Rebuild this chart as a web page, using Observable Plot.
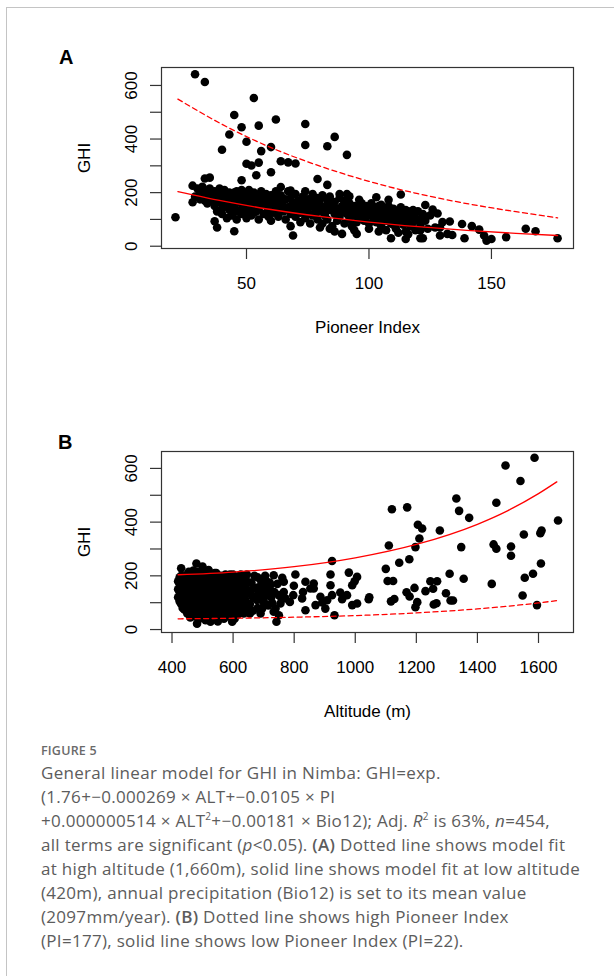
<!DOCTYPE html>
<html>
<head>
<meta charset="utf-8">
<script src="https://cdn.jsdelivr.net/npm/d3@7"></script>
<script src="https://cdn.jsdelivr.net/npm/@observablehq/plot@0.6"></script>
<style>
  body { margin: 0; background: #fff; }
  #page { position: relative; width: 614px; height: 976px; overflow: hidden; font-family: "Liberation Sans", Arial, sans-serif; }
  .border { position: absolute; left: 6px; top: 7px; width: 700px; height: 1000px; border-left: 1.5px solid #c4c4c4; border-top: 1.5px solid #c4c4c4; }
  .panel { position: absolute; left: 0; }
  .letter { position: absolute; font-family: "Liberation Sans", Arial, sans-serif; font-weight: bold; font-size: 20px; line-height: 20px; color: #000; }
  #fig { position: absolute; left: 41px; top: 741px; font-family: "Open Sans", sans-serif; font-size: 12.5px; line-height: 20px; font-weight: 600; color: #6a6a6a; letter-spacing: 0.2px; }
  #cap { position: absolute; left: 41px; top: 761px; font-family: "Open Sans", sans-serif; font-size: 17px; line-height: 24px; color: #5c5c5c; white-space: nowrap; letter-spacing: 0.3px; }
  #cap b { font-weight: 600; }
</style>
</head>
<body>
<div id="page">
  <div class="border"></div>
  <div class="letter" style="left:59px;top:47px;">A</div>
  <div class="panel" id="panelA" style="top:30px;"></div>
  <div class="letter" style="left:58px;top:432px;">B</div>
  <div class="panel" id="panelB" style="top:420px;"></div>
  <div id="fig">FIGURE 5</div>
  <div id="cap">
    General linear model for GHI in Nimba: GHI=exp.<br>
    (1.76+−0.000269 × ALT+−0.0105 × PI<br>
    +0.000000514 × ALT<sup style="font-size:10px;line-height:0">2</sup>+−0.00181 × Bio12); Adj. <i>R</i><sup style="font-size:10px;line-height:0">2</sup> is 63%, <i>n</i>=454,<br>
    all terms are significant (<i>p</i>&lt;0.05). <b>(A)</b> Dotted line shows model fit<br>
    at high altitude (1,660m), solid line shows model fit at low altitude<br>
    (420m), annual precipitation (Bio12) is set to its mean value<br>
    (2097mm/year). <b>(B)</b> Dotted line shows high Pioneer Index<br>
    (PI=177), solid line shows low Pioneer Index (PI=22).
  </div>
</div>
<script>
// ---------- Panel A: GHI vs Pioneer Index (pairs [PI, GHI]) ----------
const pointsA_sparse = [
  [29,642],[33,613],[53,553],[45,490],[62,473],[55,450],[48,444],[43,417],[50,390],[60,370],
  [40,360],[56,355],[64,317],[67,313],[70,309],[50,308],[52,301],[55,312],[54,265],[60,276],
  [48,246],[33,253],[35,256],[28,226],[64,221],[21,108],[28,164],[37,93],[38,70],[45,56],
  [68,75],[74,456],[86,408],[74,378],[83,373],[91,341],[79,251],[83,229],[74,205],[68,208],
  [113,193],[103,183],[108,173],[96,173],[88,195],[91,195],[92,186],[123,154],[69,40],[89,46],
  [95,46],[84,65],[104,55],[109,30],[115,27],[121,30],[126,137],[122,120],[125,115],[128,122],
  [130,90],[133,92],[138,83],[142,75],[145,62],[147,40],[148,21],[150,27],[156,34],[164,65],
  [168,56],[177,30],[139,30],[129,40],[132,46],[134,42],[124,65],[122,30],[127,70],[129,70]
];
const pointsA_cluster = [
  [30,215],[31,200],[32,190],[33,208],[34,178],[35,196],[31,175],[29,185],[33,170],[35,215],
  [36,188],[34,160],[32,222],[36,170],[37,205],[37,150],[38,185],[38,130],[39,215],[39,165],
  [40,195],[40,140],[40,120],[41,175],[41,210],[42,155],[42,190],[42,105],[43,200],[43,135],
  [44,170],[44,115],[45,185],[45,150],[46,205],[46,130],[46,100],[47,165],[47,190],[48,140],
  [48,210],[48,120],[49,175],[49,155],[50,195],[50,130],[50,105],[51,165],[51,210],[52,145],
  [52,185],[52,115],[53,170],[53,200],[54,130],[54,155],[55,185],[55,100],[55,140],[56,165],
  [56,205],[57,120],[57,180],[58,150],[58,195],[59,135],[59,110],[60,170],[60,190],[60,95],
  [61,150],[61,125],[62,180],[62,205],[63,140],[63,110],[64,165],[64,190],[65,130],[65,150],
  [66,100],[66,175],[67,145],[67,205],[68,120],[68,180],[69,160],[69,135],[70,195],[70,110],
  [71,150],[71,170],[72,125],[72,90],[73,185],[73,140],[74,160],[74,105],[75,130],[75,175],
  [76,150],[76,85],[77,195],[77,115],[78,140],[78,165],[79,100],[79,180],[80,130],[80,155],
  [81,190],[81,85],[82,145],[82,115],[83,170],[83,100],[84,135],[84,185],[85,155],[85,75],
  [86,120],[86,165],[87,140],[87,95],[88,180],[88,110],[89,150],[89,130],[90,170],[90,85],
  [91,120],[91,145],[92,100],[92,160],[93,135],[93,75],[94,150],[94,115],[95,90],[95,130],
  [96,145],[96,105],[97,120],[97,160],[98,95],[98,135],[99,150],[99,110],[100,125],[100,85],
  [101,140],[101,160],[102,105],[102,120],[103,145],[103,90],[104,130],[104,110],[105,155],[105,75],
  [106,120],[106,140],[107,95],[107,130],[108,150],[108,110],[109,85],[109,125],[110,140],[110,100],
  [111,115],[111,65],[112,130],[112,90],[113,145],[113,105],[114,80],[114,120],[115,135],[115,55],
  [116,100],[117,115],[117,75],[118,90],[119,125],[119,60],[120,100],[121,80],[122,110],[118,135],
  [116,45],[112,50],[107,60],[100,65],[94,60],[86,55],[80,70],
  [31,210],[33,190],[35,180],[37,172],[39,190],[41,160],[43,180],[44,145],[45,200],[47,130],
  [49,195],[51,140],[53,125],[54,180],[57,160],[59,170],[61,190],[62,140],[63,160],[66,140],
  [68,150],[70,130],[72,160],[74,130],[76,175],[78,120],[80,175],[82,125],[84,160],[86,140],
  [88,130],[90,150],[92,130],[94,135],[96,125],[98,115],[100,145],[102,135],[104,150],[106,100],
  [108,130],[110,120],[112,110],[114,100],[116,130],[118,110],[120,130],[123,95],[116,85],[121,60],
  [110,80],[105,95]
];
// model curves
const curvePI = [22, 40, 60, 80, 100, 120, 140, 160, 177];
const curveA_lowAlt = [204, 169, 137, 111, 90, 73, 59, 48, 40];     // solid
const curveA_highAlt = [549, 455, 368, 299, 242, 196, 159, 129, 106]; // dashed

// ---------- Panel B: GHI vs Altitude (pairs [ALT, GHI]) ----------
const pointsB_sparse = [
  [1587,640],[1492,611],[1541,553],[1331,488],[1120,448],[1170,455],[1462,472],[1340,442],[1373,416],[1664,406],
  [1205,390],[1219,376],[1277,369],[1210,339],[1197,307],[1110,313],[1347,307],[1552,354],[1606,359],[1610,369],
  [1453,317],[1462,301],[1510,309],[1510,275],[1100,226],[1144,249],[1177,262],[1608,246],[1106,181],[1124,181],
  [1309,208],[1355,189],[1447,170],[1555,193],[1582,208],[1246,180],[1268,180],[1255,152],[1194,155],[1230,143],
  [1168,139],[1178,123],[1297,135],[1117,105],[1128,114],[1203,102],[1197,83],[1257,93],[1266,98],[1312,108],
  [1320,108],[1548,127],[1595,91],
  [924,255],[919,205],[979,212],[1006,196],[998,180],[990,165],[1044,113],[1046,120],[919,165],[864,171],
  [864,153],[804,205],[932,53],[924,128],[951,138],[886,122],[892,101],[870,91],[829,140],[826,116],
  [837,72],[799,163],[797,128],[786,103],[742,29],[750,53],[733,202],[761,193],[766,178],[990,91],
  [1006,97],[957,113],[973,128],[908,109],[902,78],[766,140],[771,116],[750,128],[722,165],[712,128],
  [700,103],[695,78],[739,78],[755,97],[733,66],[837,178],[853,153]
];
const pointsB_cluster = [
  [430,228],[480,246],[455,215],[520,222],[545,210],[600,205],[500,235],[470,220],
  [450,60],[482,22],[526,29],[597,29],[460,45],[510,35],[550,30],[570,40],[540,55],[490,40],
  [420,150],[420,120],[420,180],[430,95],[430,135],[430,165],[430,200],
  [440,110],[440,150],[440,185],[440,75],[450,130],[450,170],[450,205],[450,95],
  [460,60],[460,115],[460,150],[460,190],[470,85],[470,140],[470,175],[470,210],
  [480,105],[480,160],[480,195],[480,70],[490,125],[490,55],[490,180],[490,150],
  [500,90],[500,140],[500,205],[500,170],[510,65],[510,115],[510,160],[510,190],
  [520,100],[520,135],[520,180],[520,45],[530,75],[530,150],[530,200],[530,120],
  [540,95],[540,130],[540,170],[540,210],[550,60],[550,115],[550,185],[550,150],
  [560,85],[560,140],[560,165],[560,200],[570,105],[570,125],[570,180],[570,55],
  [580,70],[580,150],[580,195],[580,115],[590,95],[590,135],[590,170],[590,205],
  [600,60],[600,120],[600,155],[600,185],[610,80],[610,140],[610,175],[610,100],
  [620,115],[620,160],[620,195],[620,65],[630,90],[630,140],[630,175],
  [640,110],[640,160],[640,190],[640,130],
  [650,145],[655,95],[660,175],[665,120],[670,200],[675,155],[680,80],[685,135],[690,185],[695,110],
  [700,160],[705,200],[710,140],[715,90],[720,175],[725,120],[655,60],[665,70],[700,103],[712,128],
  [425,105],[425,140],[425,170],[425,195],[435,80],[435,120],[435,150],[435,185],[445,95],[445,130],
  [445,165],[445,200],[455,75],[455,110],[455,145],[455,180],[465,100],[465,130],[465,165],[465,200],
  [475,50],[475,120],[475,155],[475,190],[485,90],[485,135],[485,170],[485,215],[495,70],[495,110],
  [495,160],[495,195],[505,50],[505,125],[505,150],[505,215],[515,85],[515,135],[515,175],[515,205],
  [525,60],[525,110],[525,160],[525,195],[535,40],[535,95],[535,140],[535,180],[545,75],[545,120],
  [545,160],[545,195],[555,45],[555,100],[555,130],[555,170],[565,70],[565,115],[565,150],[565,190],
  [575,90],[575,135],[575,165],[575,205],[585,50],[585,100],[585,130],[585,180],[595,75],[595,110],
  [595,145],[595,190],[605,40],[605,95],[605,130],[605,165],[615,55],[615,125],[615,150],[615,185],
  [625,80],[625,105],[625,205],[635,60],[635,120],[635,155],
  [645,80],[650,175],[660,130],[668,155],[678,110],[688,160],[698,135],[708,180],[718,150],[728,100],
  [735,140],[745,170],[757,120],[680,195],[690,60],[645,205]
];
// model curves
const curveALT = [420, 600, 800, 1000, 1200, 1400, 1500, 1600, 1660];
const curveB_lowPI = [204, 214, 234, 267, 317, 392, 443, 506, 550];  // solid
const curveB_highPI = [40, 42, 46, 52, 62, 77, 87, 99, 108];          // dashed

const yTicks = [0, 100, 200, 300, 400, 500, 600];

function panel({points, xDomain, yDomain, xTicks, xLabel, curveX, solid, dashed, marginTop, marginBottom, height}) {
  const pts = points.map(([x, y]) => ({x, y}));
  const curves = curveX.map((x, i) => ({x, solid: solid[i], dashed: dashed[i]}));
  return Plot.plot({
    width: 614, height, marginLeft: 161, marginRight: 41, marginTop, marginBottom,
    style: {fontFamily: "'Liberation Sans', Arial, sans-serif", fontSize: "17px", color: "#000", background: "transparent", overflow: "visible"},
    x: {domain: xDomain},
    y: {domain: yDomain},
    marks: [
      Plot.dot(pts, {x: "x", y: "y", r: 4.3, fill: "#000", stroke: "none"}),
      Plot.line(curves, {x: "x", y: "solid", stroke: "#ff0000", strokeWidth: 1.3, curve: "monotone-x"}),
      Plot.line(curves, {x: "x", y: "dashed", stroke: "#ff0000", strokeWidth: 1.3, strokeDasharray: "5,3.5", curve: "monotone-x"}),
      Plot.frame({stroke: "#333", strokeWidth: 1.2}),
      Plot.axisY({ticks: yTicks, tickSize: 11, tickPadding: 14, tickRotate: -90, stroke: "#333", strokeWidth: 1.2,
        tickFormat: d => d % 200 === 0 ? String(d) : "", label: null, fontSize: 17}),
      Plot.axisX({ticks: xTicks, tickSize: 11, tickPadding: 17, stroke: "#333", strokeWidth: 1.2,
        tickFormat: d => String(d), label: null, fontSize: 17}),
      Plot.text(["GHI"], {frameAnchor: "left", dx: -77, rotate: -90, textAnchor: "middle", lineAnchor: "middle", fontSize: 17}),
      Plot.text([xLabel], {frameAnchor: "bottom", dy: 79, textAnchor: "middle", lineAnchor: "middle", fontSize: 17})
    ]
  });
}

document.getElementById("panelA").append(panel({
  points: pointsA_sparse.concat(pointsA_cluster),
  xDomain: [15.3, 183.5], yDomain: [-8.5, 667],
  xTicks: [50, 100, 150], xLabel: "Pioneer Index",
  curveX: curvePI, solid: curveA_lowAlt, dashed: curveA_highAlt,
  marginTop: 37, marginBottom: 97, height: 315
}));

document.getElementById("panelB").append(panel({
  points: pointsB_sparse.concat(pointsB_cluster),
  xDomain: [365.6, 1714.6], yDomain: [-11, 663],
  xTicks: [400, 600, 800, 1000, 1200, 1400, 1600], xLabel: "Altitude (m)",
  curveX: curveALT, solid: curveB_lowPI, dashed: curveB_highPI,
  marginTop: 31, marginBottom: 103, height: 315
}));
</script>
</body>
</html>
